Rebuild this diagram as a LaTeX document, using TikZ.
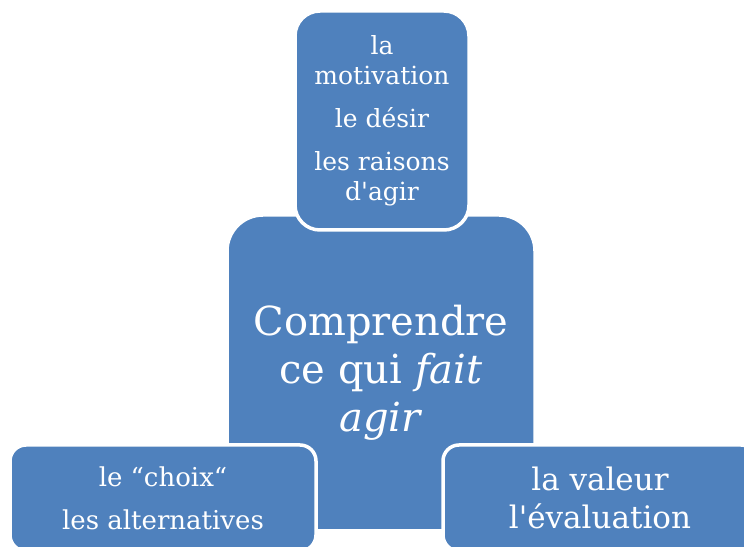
\documentclass[tikz,border=0pt]{standalone}
\usepackage{fontspec}
\newfontfamily\boxfont{DejaVu Serif}
\definecolor{boxblue}{RGB}{79,129,189}

\begin{document}
\begin{tikzpicture}[x=1pt,y=1pt,
  box/.style={draw=white, line width=3.5pt, fill=boxblue, text=white, inner sep=0pt, align=center}]
\useasboundingbox (0,0) rectangle (744,546);
\clip (0,0) rectangle (744,546);
\node [box, rounded corners=36pt, minimum width=308pt, minimum height=316pt,
  font={\boxfont\fontsize{40}{48}\selectfont}] (centre) at (381,173)
  {Comprendre\\ce qui \textit{fait}\\\textit{agir}};
\node [box, rounded corners=25pt, minimum width=174pt, minimum height=219pt,
  font={\boxfont\fontsize{25}{30}\selectfont}] (motivation) at (382,425.5)
  {la\\motivation\\[13pt]le désir\\[13pt]les raisons\\d'agir};
\node [box, rounded corners=16pt, minimum width=306pt, minimum height=106pt,
  font={\boxfont\fontsize{26}{43}\selectfont}] (choix) at (163,48)
  {le “choix“\\les alternatives};
\node [box, rounded corners=16pt, minimum width=314pt, minimum height=106pt,
  font={\boxfont\fontsize{31}{38}\selectfont}] (valeur) at (600,48)
  {la valeur\\l'évaluation};
\end{tikzpicture}
\end{document}
